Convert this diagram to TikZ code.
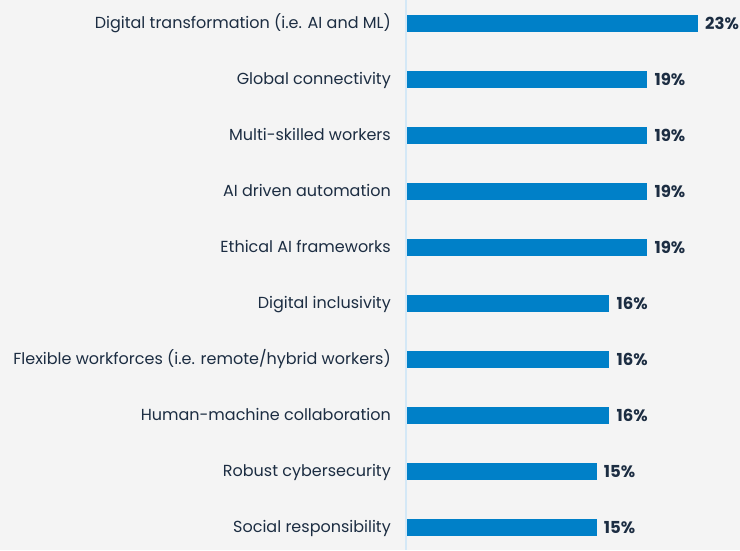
\documentclass[tikz,border=0pt]{standalone}
\usepackage{fontspec}
\setmainfont{Poppins}
\usetikzlibrary{positioning}
\definecolor{barblue}{HTML}{0080C8}
\definecolor{axisblue}{HTML}{D4E8F6}
\definecolor{inkblue}{HTML}{1C2D42}
\definecolor{paper}{HTML}{F4F4F4}
\tikzset{
  label/.style={anchor=base east, inner sep=0pt, text=inkblue, font=\fontsize{16}{18}\selectfont},
  value/.style={anchor=base west, inner sep=0pt, text=inkblue, font=\fontsize{16.5}{18}\selectfont\bfseries},
}
\begin{document}
\begin{tikzpicture}[x=1pt,y=1pt]
% Background and frame
\fill[paper] (0,0) rectangle (740,-550);
\useasboundingbox (0,0) rectangle (740,-550);

% Axis line
\coordinate (top) at (406,0);
\coordinate (bottom) at (406,-550);
\draw[axisblue, line width=1.2pt] (top) -- (bottom);

% Bars, labels and values
\foreach \v/\t [count=\i from 0] in {
    23/{Digital transformation (i.e. AI and ML)},
    19/{Global connectivity},
    19/{Multi-skilled workers},
    19/{AI driven automation},
    19/{Ethical AI frameworks},
    16/{Digital inclusivity},
    16/{Flexible workforces (i.e. remote/hybrid workers)},
    16/{Human-machine collaboration},
    15/{Robust cybersecurity},
    15/{Social responsibility}} {
    \pgfmathsetmacro{\y}{-23-56*\i}
    \node[label] (lab\i) at (391,\y-5.6) {\t};
    \fill[barblue] (407,\y-8.5) rectangle (407+12.65*\v,\y+8.5);
    \coordinate (end\i) at (407+12.65*\v+7,\y-6);
    \node[value] (val\i) at (end\i) {\v\%};
}
\end{tikzpicture}
\end{document}
